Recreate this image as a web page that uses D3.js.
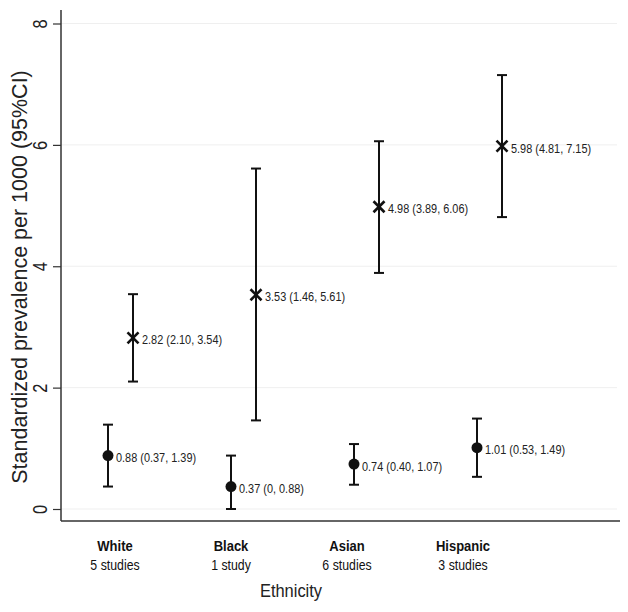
<!DOCTYPE html>
<html><head><meta charset="utf-8">
<script src="https://cdn.jsdelivr.net/npm/d3@7"></script>
<style>body{margin:0;background:#fff}svg{display:block}</style>
</head><body>
<svg id="c" width="628" height="612"></svg>
<script>
const categories = ["White", "Black", "Asian", "Hispanic"];
const studies = ["5 studies", "1 study", "6 studies", "3 studies"];
const crossEst = [2.82, 3.53, 4.98, 5.98];
const crossLo = [2.10, 1.46, 3.89, 4.81];
const crossHi = [3.54, 5.61, 6.06, 7.15];
const crossLabels = ["2.82 (2.10, 3.54)", "3.53 (1.46, 5.61)", "4.98 (3.89, 6.06)", "5.98 (4.81, 7.15)"];
const dotEst = [0.88, 0.37, 0.74, 1.01];
const dotLo = [0.37, 0, 0.40, 0.53];
const dotHi = [1.39, 0.88, 1.07, 1.49];
const dotLabels = ["0.88 (0.37, 1.39)", "0.37 (0, 0.88)", "0.74 (0.40, 1.07)", "1.01 (0.53, 1.49)"];
const yTicks = [0, 2, 4, 6, 8];

const svg = d3.select("#c");
const font = "'Liberation Sans',Arial,sans-serif";
const y = d3.scaleLinear().domain([0, 8]).range([509, 23.5]);
const xp = d3.scaleLinear().domain([0, 3]).range([108, 477]);
const xl = d3.scaleLinear().domain([0, 3]).range([115, 463]);
const off = 25;

function label(g, x, yy, txt, size, sx, opts) {
  opts = opts || {};
  return g.append("text")
    .attr("transform", `translate(${x},${yy})${opts.rot ? " rotate(" + opts.rot + ")" : ""} scale(${sx},1)`)
    .attr("text-anchor", opts.anchor || "start")
    .attr("dy", opts.dy || null)
    .attr("font-family", font).attr("font-size", size)
    .attr("font-weight", opts.bold ? "bold" : null)
    .attr("fill", opts.fill || "#1a1a1a").text(txt);
}

// gridlines
svg.append("g").selectAll("line").data(yTicks).join("line")
  .attr("x1", 61).attr("x2", 617).attr("y1", d => y(d)).attr("y2", d => y(d))
  .attr("stroke", "#efefef").attr("stroke-width", 1);

// y axis
const yAxis = d3.axisLeft(y).tickValues(yTicks).tickSize(8).tickPadding(0).tickFormat(d3.format("d"));
const ga = svg.append("g").attr("transform", "translate(61,0)").call(yAxis);
ga.select(".domain").attr("d", "M0,10V521").attr("stroke", "#333").attr("stroke-width", 1.5);
ga.selectAll(".tick line").attr("stroke", "#333").attr("stroke-width", 1.2);
ga.selectAll(".tick text").attr("x", null).attr("dy", "0.35em").attr("text-anchor", "middle")
  .attr("transform", "translate(-21,0) rotate(-90) scale(0.78,1)")
  .attr("font-family", font).attr("font-size", 21).attr("fill", "#222");

// x axis line
svg.append("line").attr("x1", 61).attr("x2", 620).attr("y1", 521).attr("y2", 521)
  .attr("stroke", "#333").attr("stroke-width", 1.5);

// y title
label(svg, 19, 277, "Standardized prevalence per 1000 (95%CI)", 21.5, 1, {rot: -90, anchor: "middle", dy: "0.35em", fill: "#222"});

// category labels
const gl = svg.append("g");
categories.forEach((c, i) => {
  label(gl, xl(i), 551, c, 14, 0.93, {anchor: "middle", bold: true, fill: "#111"});
  label(gl, xl(i), 570, studies[i], 14, 0.88, {anchor: "middle", fill: "#111"});
});
label(svg, 291, 597, "Ethnicity", 17.5, 0.94, {anchor: "middle", fill: "#222"});

function errbars(est, lo, hi, dx) {
  const g = svg.append("g").attr("stroke", "#111").attr("stroke-width", 2);
  est.forEach((e, i) => {
    const x = xp(i) + dx;
    g.append("line").attr("x1", x).attr("x2", x).attr("y1", y(lo[i])).attr("y2", y(hi[i]));
    g.append("line").attr("x1", x - 5).attr("x2", x + 5).attr("y1", y(lo[i])).attr("y2", y(lo[i]));
    g.append("line").attr("x1", x - 5).attr("x2", x + 5).attr("y1", y(hi[i])).attr("y2", y(hi[i]));
  });
}
errbars(crossEst, crossLo, crossHi, off);
errbars(dotEst, dotLo, dotHi, 0);

// cross markers
const cg = svg.append("g").attr("stroke", "#111").attr("stroke-width", 2.6);
crossEst.forEach((e, i) => {
  const x = xp(i) + off, yy = y(e), s = 5.5;
  cg.append("line").attr("x1", x - s).attr("x2", x + s).attr("y1", yy - s).attr("y2", yy + s);
  cg.append("line").attr("x1", x - s).attr("x2", x + s).attr("y1", yy + s).attr("y2", yy - s);
});
// dot markers
svg.append("g").selectAll("circle").data(dotEst).join("circle")
  .attr("cx", (d, i) => xp(i)).attr("cy", d => y(d)).attr("r", 5.5).attr("fill", "#111");

// value labels
const gv = svg.append("g");
crossEst.forEach((d, i) => label(gv, xp(i) + off + 9, y(d) + 2, crossLabels[i], 13, 0.84, {dy: "0.35em", fill: "#222"}));
dotEst.forEach((d, i) => label(gv, xp(i) + 8, y(d) + 2, dotLabels[i], 13, 0.84, {dy: "0.35em", fill: "#222"}));
</script>
</body></html>
